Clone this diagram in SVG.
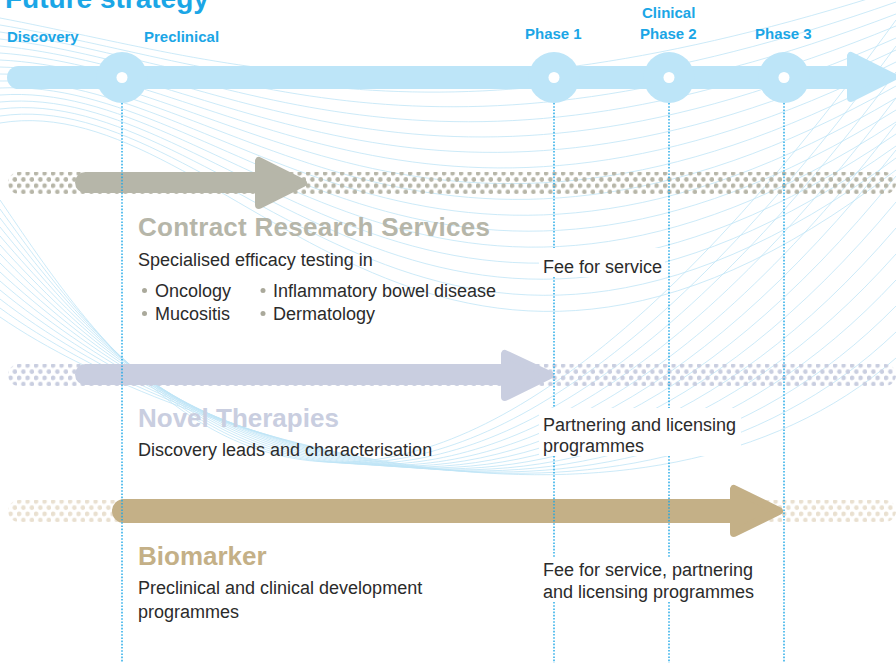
<svg xmlns="http://www.w3.org/2000/svg" width="896" height="663" viewBox="0 0 896 663">
<style>
.mesh path{fill:none;stroke:#bfe5f6;stroke-width:0.8}
.stage{font-family:"Liberation Sans",Arial,sans-serif;font-weight:bold;font-size:15px;fill:#1ba6e6}
.title{font-family:"Liberation Sans",Arial,sans-serif;font-weight:bold;font-size:28px;fill:#1ba6e6}
.head{font-family:"Liberation Sans",Arial,sans-serif;font-weight:bold;font-size:26px}
.body{font-family:"Liberation Sans",Arial,sans-serif;font-size:18px;fill:#2b2b2b}
.vline{stroke:#1ba6e6;stroke-width:1.4;stroke-dasharray:1.6 1.6;fill:none}
.tl{fill:#bde5f8}
.knock{fill:#fff}
</style>
<defs>
<pattern id="dotsGrey" patternUnits="userSpaceOnUse" x="0" y="173.3" width="8.5" height="12.4">
<circle cx="2.1" cy="0" r="2.3" fill="#b7b6a8"/><circle cx="2.1" cy="12.4" r="2.3" fill="#b7b6a8"/><circle cx="6.35" cy="6.2" r="2.3" fill="#b7b6a8"/>
</pattern>
<pattern id="dotsLav" patternUnits="userSpaceOnUse" x="0" y="365.5" width="8.5" height="12.4">
<circle cx="2.1" cy="0" r="2.3" fill="#c9cee0"/><circle cx="2.1" cy="12.4" r="2.3" fill="#c9cee0"/><circle cx="6.35" cy="6.2" r="2.3" fill="#c9cee0"/>
</pattern>
<pattern id="dotsBeige" patternUnits="userSpaceOnUse" x="0" y="501.5" width="8.5" height="12.4">
<circle cx="2.1" cy="0" r="2.3" fill="#e9e0d0"/><circle cx="2.1" cy="12.4" r="2.3" fill="#e9e0d0"/><circle cx="6.35" cy="6.2" r="2.3" fill="#e9e0d0"/>
</pattern>
</defs>
<rect width="896" height="663" fill="#fff"/>
<g id="background" class="mesh">
<path d="M0,18 C230,62 430,140 896,-10"/>
<path d="M0,25 C230,63.5 430,166 896,2"/>
<path d="M0,32 C230,65 430,192 896,14"/>
<path d="M0,39 C230,66.5 430,218 896,26"/>
<path d="M0,46 C230,68 430,244 896,38"/>
<path d="M0,53 C230,69.5 430,270 896,50"/>
<path d="M0,60 C230,71 430,296 896,62"/>
<path d="M0,67 C230,72.5 430,322 896,74"/>
<path d="M0,74 C230,74 430,348 896,86"/>
<path d="M0,81 C230,75.5 430,374 896,98"/>
<path d="M0,88 C230,77 430,400 896,110"/>
<path d="M0,95 C230,78.5 430,426 896,122"/>
<path d="M0,102 C230,80 430,452 896,134"/>
<path d="M0,109 C230,81.5 430,478 896,146"/>
<path d="M0,116 C230,83 430,504 896,158"/>
<path d="M0,123 C230,84.5 430,530 896,170"/>
<path d="M0,200 C130,390 360,760 896,20"/>
<path d="M0,209 C134,394 382,746 896,46"/>
<path d="M0,218 C138,398 404,732 896,72"/>
<path d="M0,227 C142,402 426,718 896,98"/>
<path d="M0,236 C146,406 448,704 896,124"/>
<path d="M0,245 C150,410 470,690 896,150"/>
<path d="M0,254 C154,414 492,676 896,176"/>
<path d="M0,263 C158,418 514,662 896,202"/>
<path d="M0,272 C162,422 536,648 896,228"/>
<path d="M0,281 C166,426 558,634 896,254"/>
<path d="M0,290 C170,430 580,620 896,280"/>
<path d="M0,299 C174,434 602,606 896,306"/>
<path d="M0,308 C178,438 624,592 896,332"/>
<path d="M0,317 C182,442 646,578 896,358"/>
</g>
<rect class="knock" x="539" y="248" width="126" height="29"/>
<rect class="knock" x="539" y="408" width="202" height="48"/>
<rect class="knock" x="539" y="558" width="222" height="44"/>
<text class="title" x="5" y="8">Future strategy</text>
<g id="timeline">
<rect class="tl" x="7" y="66" width="850" height="23" rx="11.5"/>
<polygon class="tl" points="851,56 851,98 893,77" stroke="#bde5f8" stroke-width="8" stroke-linejoin="round"/>
</g>
<g id="stage-discovery"><text class="stage" x="7" y="42">Discovery</text></g>
<g id="stage-preclinical"><circle class="tl" cx="122" cy="77.5" r="25.5"/><circle cx="122" cy="77.5" r="5.5" fill="#fff"/><text class="stage" x="144" y="42">Preclinical</text></g>
<g id="stage-phase1"><circle class="tl" cx="554" cy="77.5" r="25.5"/><circle cx="554" cy="77.5" r="5.5" fill="#fff"/><text class="stage" x="525" y="39">Phase 1</text></g>
<g id="stage-phase2"><circle class="tl" cx="669" cy="77.5" r="25.5"/><circle cx="669" cy="77.5" r="5.5" fill="#fff"/><text class="stage" x="642" y="18">Clinical</text><text class="stage" x="640" y="39">Phase 2</text></g>
<g id="stage-phase3"><circle class="tl" cx="784" cy="77.5" r="25.5"/><circle cx="784" cy="77.5" r="5.5" fill="#fff"/><text class="stage" x="755" y="39">Phase 3</text></g>
<g id="track-crs">
<rect x="8" y="172" width="888" height="22" rx="11" fill="url(#dotsGrey)"/>
<rect x="75" y="172" width="190" height="21" rx="10.5" fill="#b6b6a9"/>
<polygon points="259,161 259,205 303,183" fill="#b6b6a9" stroke="#b6b6a9" stroke-width="8" stroke-linejoin="round"/>
</g>
<g id="track-novel">
<rect x="8" y="364" width="888" height="22" rx="11" fill="url(#dotsLav)"/>
<rect x="75" y="364" width="440" height="21" rx="10.5" fill="#c9cee0"/>
<polygon points="505,354 505,397 550,375" fill="#c9cee0" stroke="#c9cee0" stroke-width="8" stroke-linejoin="round"/>
</g>
<g id="track-biomarker">
<rect x="8" y="500" width="888" height="22" rx="11" fill="url(#dotsBeige)"/>
<rect x="112" y="499" width="630" height="24" rx="12" fill="#c4b087"/>
<polygon points="734,489 734,533 779,511" fill="#c4b087" stroke="#c4b087" stroke-width="8" stroke-linejoin="round"/>
</g>
<g id="connectors">
<line class="vline" x1="122" y1="103" x2="122" y2="663"/>
<line class="vline" x1="554" y1="103" x2="554" y2="248"/>
<line class="vline" x1="554" y1="277" x2="554" y2="408"/>
<line class="vline" x1="554" y1="456" x2="554" y2="558"/>
<line class="vline" x1="554" y1="602" x2="554" y2="663"/>
<line class="vline" x1="669" y1="103" x2="669" y2="408"/>
<line class="vline" x1="669" y1="456" x2="669" y2="558"/>
<line class="vline" x1="669" y1="602" x2="669" y2="663"/>
<line class="vline" x1="784" y1="103" x2="784" y2="663"/>
</g>
<g id="crs-text">
<text class="head" x="138" y="236" fill="#b6b6a9" textLength="352" lengthAdjust="spacing">Contract Research Services</text>
<text class="body" x="138" y="266">Specialised efficacy testing in</text>
<circle cx="144.5" cy="290.5" r="2.5" fill="#aaa99b"/><text class="body" x="155" y="297">Oncology</text>
<circle cx="263" cy="290.5" r="2.5" fill="#aaa99b"/><text class="body" x="273" y="297">Inflammatory bowel disease</text>
<circle cx="144.5" cy="313.5" r="2.5" fill="#aaa99b"/><text class="body" x="155" y="320">Mucositis</text>
<circle cx="263" cy="313.5" r="2.5" fill="#aaa99b"/><text class="body" x="273" y="320">Dermatology</text>
<text class="body" x="543" y="273">Fee for service</text>
</g>
<g id="novel-text">
<text class="head" x="138" y="427" fill="#c9cee0">Novel Therapies</text>
<text class="body" x="138" y="456">Discovery leads and characterisation</text>
<text class="body" x="543" y="431">Partnering and licensing</text>
<text class="body" x="543" y="452">programmes</text>
</g>
<g id="biomarker-text">
<text class="head" x="138" y="565" fill="#c4b087">Biomarker</text>
<text class="body" x="138" y="594">Preclinical and clinical development</text>
<text class="body" x="138" y="618">programmes</text>
<text class="body" x="543" y="576">Fee for service, partnering</text>
<text class="body" x="543" y="598">and licensing programmes</text>
</g>
</svg>
